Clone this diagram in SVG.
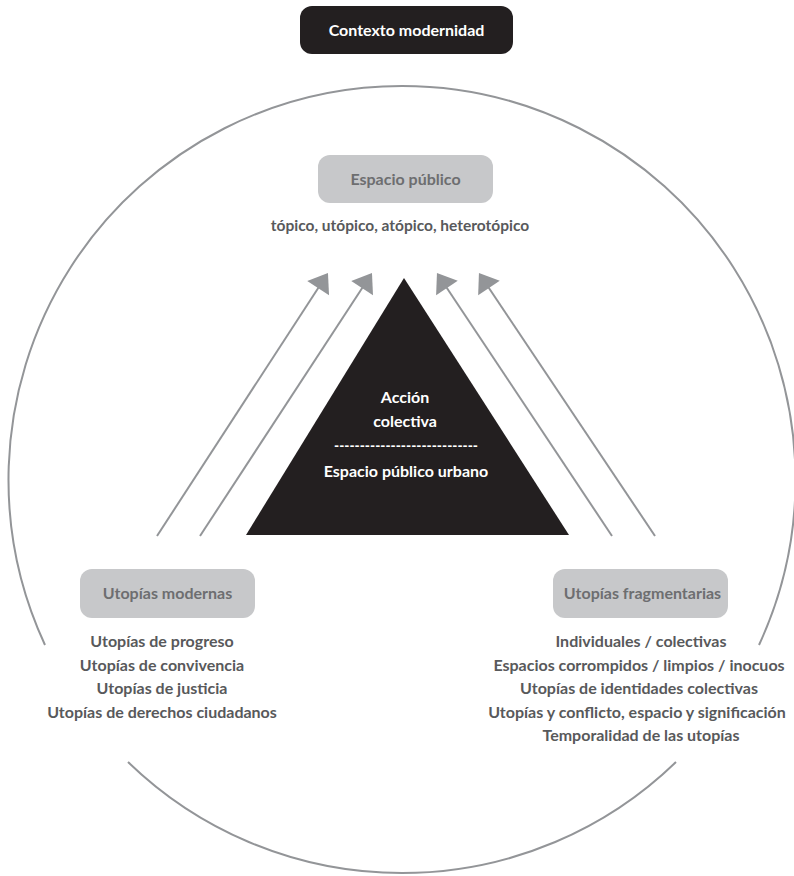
<svg xmlns="http://www.w3.org/2000/svg" width="794" height="876" viewBox="0 0 794 876">
<style>
text{font-family:Lato,"Liberation Sans",sans-serif;font-weight:700;text-anchor:middle}
.box{fill:#c7c8ca}
.lbl{fill:#6d6e70;font-size:16px}
.sub{fill:#58595b;font-size:16px}
.wt{fill:#ffffff;font-size:16px}
.circ{fill:none;stroke:#939598;stroke-width:2}
.arr{stroke:#939598;stroke-width:2;fill:none;marker-end:url(#ah)}
</style>
<defs>
<marker id="ah" markerUnits="userSpaceOnUse" markerWidth="30" markerHeight="30" viewBox="-20 -15 30 30" refX="0" refY="0" orient="auto">
<path d="M8,0 L-10,-13 L-10,13 Z" fill="#939598"/>
</marker>
</defs>
<rect width="794" height="876" fill="#ffffff"/>
<g id="circle">
<path class="circ" d="M45,645 A393.5,393.5 0 1 1 759,645"/>
<path class="circ" d="M128,762 A393.5,393.5 0 0 0 676,762"/>
</g>
<g id="connectors">
<line class="arr" x1="157" y1="536" x2="323.6" y2="279.7"/>
<line class="arr" x1="200" y1="536" x2="367.6" y2="279.7"/>
<line class="arr" x1="612" y1="536" x2="441.4" y2="279.7"/>
<line class="arr" x1="655" y1="536" x2="483.4" y2="279.7"/>
</g>
<g id="contexto">
<rect x="300" y="6" width="213" height="48" rx="12" fill="#231f20"/>
<text class="wt" x="406.5" y="36">Contexto modernidad</text>
</g>
<g id="espacio-publico">
<rect class="box" x="318" y="155" width="175" height="48" rx="12"/>
<text class="lbl" x="405.5" y="185">Espacio público</text>
<text class="sub" x="400" y="231" style="font-size:15.5px">tópico, utópico, atópico, heterotópico</text>
</g>
<g id="accion-colectiva">
<path d="M404,278 L569,535 L246,535 Z" fill="#231f20"/>
<text class="wt" x="405" y="403">Acción</text>
<text class="wt" x="405" y="427">colectiva</text>
<text class="wt" x="406" y="451" textLength="144" lengthAdjust="spacingAndGlyphs">----------------------------</text>
<text class="wt" x="406" y="477">Espacio público urbano</text>
</g>
<g id="utopias-modernas">
<rect class="box" x="80" y="569" width="175" height="49" rx="12"/>
<text class="lbl" x="167.5" y="599">Utopías modernas</text>
<text class="sub" x="162" y="647">Utopías de progreso</text>
<text class="sub" x="162" y="670.5">Utopías de convivencia</text>
<text class="sub" x="162" y="694">Utopías de justicia</text>
<text class="sub" x="162" y="717.5">Utopías de derechos ciudadanos</text>
</g>
<g id="utopias-fragmentarias">
<rect class="box" x="553" y="569" width="175" height="49" rx="12"/>
<text class="lbl" x="642.5" y="599">Utopías fragmentarias</text>
<text class="sub" x="641" y="647">Individuales / colectivas</text>
<text class="sub" x="639" y="670.5">Espacios corrompidos / limpios / inocuos</text>
<text class="sub" x="639" y="694">Utopías de identidades colectivas</text>
<text class="sub" x="637" y="717.5">Utopías y conflicto, espacio y significación</text>
<text class="sub" x="641" y="741">Temporalidad de las utopías</text>
</g>
</svg>
